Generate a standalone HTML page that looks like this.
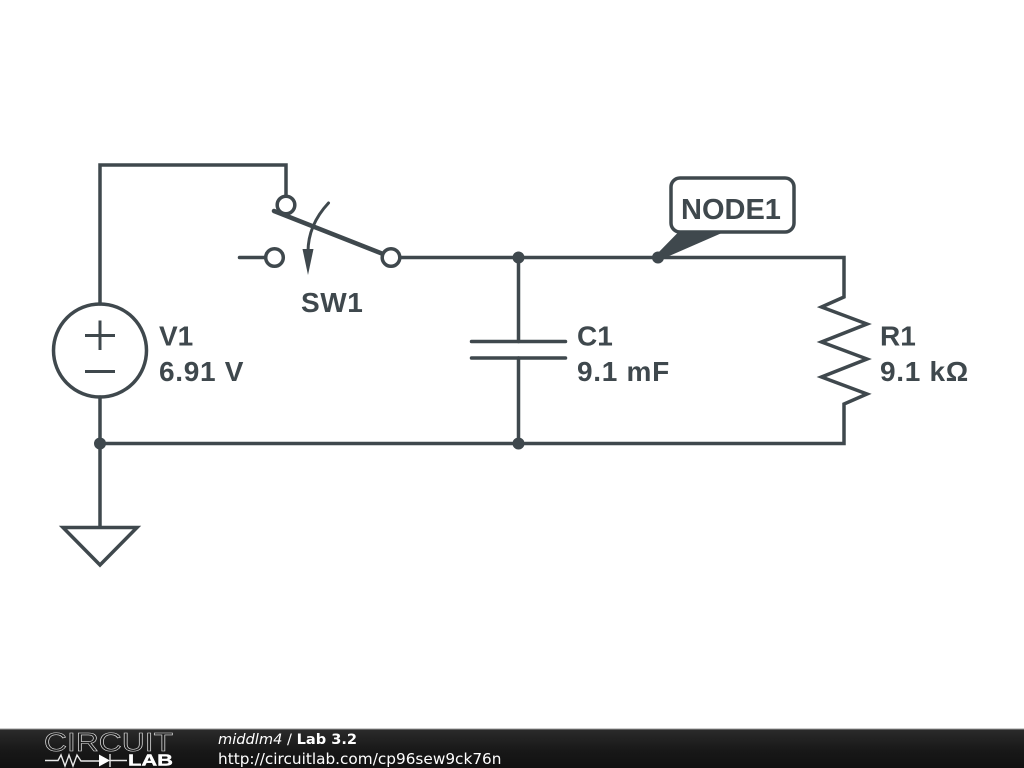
<!DOCTYPE html>
<html><head><meta charset="utf-8"><style>
html,body{margin:0;padding:0;background:#fff;width:1024px;height:768px;overflow:hidden}
svg{display:block}
</style></head><body>
<svg width="1024" height="768" viewBox="0 0 1024 768" xmlns="http://www.w3.org/2000/svg">
<defs><linearGradient id="bar" x1="0" y1="0" x2="0" y2="1"><stop offset="0" stop-color="#2b2b2b"/><stop offset="0.55" stop-color="#181818"/><stop offset="1" stop-color="#111"/></linearGradient></defs>
<rect width="1024" height="768" fill="#fff"/>
<g fill="none" stroke="#3f484d" stroke-width="3.5" stroke-linecap="round" stroke-linejoin="miter">
<path d="M286 196V165H100V304"/>
<path d="M100 397V527"/>
<path d="M400 257.500H844V297L821.500 307L867 324L821.500 342L867 359L821.500 377L867 394L844 404V443.500H100" stroke-linecap="butt"/>
<path d="M518.500 257.500V341.500M518.500 358V443.500"/>
<path d="M471.500 341.500H565.500M471.500 358H565.500"/>
<path d="M239.500 257.500H265"/>
<path d="M274 211L383 254" stroke-width="4.500"/>
<circle cx="100" cy="350.500" r="46.500"/>
<path d="M85 335.500H115M100 320.500V350M85 371.500H115" stroke-width="3" stroke-linecap="butt"/>
<path d="M63 527.500H137L100 565Z" stroke-linejoin="miter"/>
<circle cx="286" cy="205" r="8.800" fill="#fff"/>
<circle cx="274.500" cy="257.500" r="8.800" fill="#fff"/>
<circle cx="391" cy="257.500" r="8.800" fill="#fff"/>
<path d="M328.500 203Q308 225 308 252" stroke-width="3"/>
<rect x="671" y="178" width="123" height="54" rx="9" fill="#fff"/>
</g>
<path d="M302.500 249H313.500L308 275Z" fill="#3f484d"/>
<path d="M678 232.500H723L660 260L655 256Z" fill="#3f484d"/>
<circle cx="518.500" cy="257.500" r="6" fill="#3f484d"/>
<circle cx="658" cy="257.500" r="6" fill="#3f484d"/>
<circle cx="100" cy="443.500" r="6" fill="#3f484d"/>
<circle cx="518.500" cy="443.500" r="6" fill="#3f484d"/>
<g font-family="'Liberation Sans',sans-serif" font-weight="700" font-size="28" fill="#3f484d">
<text x="159" y="345.500">V1</text>
<text x="159" y="381" letter-spacing="0.700">6.91 V</text>
<text x="301" y="312" letter-spacing="0.600">SW1</text>
<text x="577" y="345.500">C1</text>
<text x="577" y="381" letter-spacing="0.700">9.1 mF</text>
<text x="880" y="345.500">R1</text>
<text x="880" y="381" letter-spacing="0.700">9.1 kΩ</text>
<text x="681" y="219" font-size="29">NODE1</text>
</g>
<rect x="0" y="729" width="1024" height="39" fill="url(#bar)"/>
<rect x="0" y="728.500" width="1024" height="1" fill="#999"/>
<text x="44" y="751" font-family="'Liberation Sans',sans-serif" font-size="26" textLength="129" lengthAdjust="spacingAndGlyphs" fill="#1c1c1c" stroke="#e0e0e0" stroke-width="0.6">CIRCUIT</text>
<g fill="none" stroke="#e8e8e8" stroke-width="1.400">
<path d="M45 760.500H58L61 755L65 766L69 755L73 766L77 755L81 761H100M110 760.500H127M110 754V767"/>
</g>
<path d="M99 754.500V766.500L110 760.500Z" fill="#fff"/>
<text x="128" y="765.500" font-family="'Liberation Sans',sans-serif" font-weight="700" font-size="16" textLength="45" lengthAdjust="spacingAndGlyphs" fill="#fff" stroke="#fff" stroke-width="0.4">LAB</text>
<text x="218" y="744" font-family="'DejaVu Sans',sans-serif" font-size="14.600" fill="#fff"><tspan font-style="italic">middlm4</tspan> / <tspan font-weight="700">Lab 3.2</tspan></text>
<text x="218" y="764" font-family="'DejaVu Sans',sans-serif" font-size="15.300" fill="#fff">http://circuitlab.com/cp96sew9ck76n</text>
</svg>
</body></html>
